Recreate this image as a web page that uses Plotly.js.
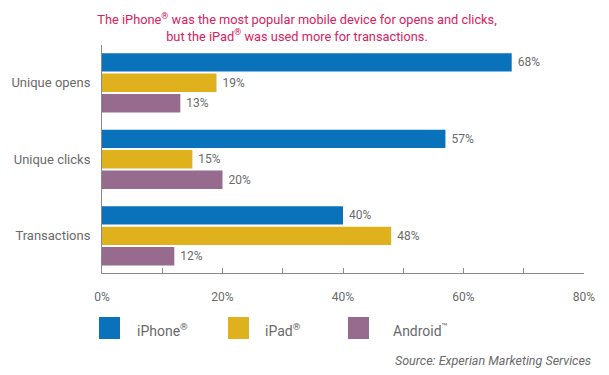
<!DOCTYPE html>
<html>
<head>
<meta charset="utf-8">
<script src="https://cdn.plot.ly/plotly-3.0.1.min.js"></script>
<style>html,body{margin:0;padding:0;background:#fff;}#chart{width:609px;height:375px;}</style>
</head>
<body>
<div id="chart"></div>
<script>
const categories = ['Unique opens', 'Unique clicks', 'Transactions'];
const iphoneValues = [68, 57, 40];
const ipadValues = [19, 15, 48];
const androidValues = [13, 20, 12];
const seriesNames = ['iPhone<sup>®</sup>', 'iPad<sup>®</sup>', 'Android<sup>™</sup>'];
const seriesColors = ['#0a72bb', '#dfb21d', '#966b8d'];
const xTickValues = [0, 20, 40, 60, 80];
const xTickLabels = ['0%', '20%', '40%', '60%', '80%'];
const titleText = 'The iPhone<sup>®</sup> was the most popular mobile device for opens and clicks,<br>but the iPad<sup>®</sup> was used more for transactions.';
const sourceText = 'Source: Experian Marketing Services';

const seriesValues = [iphoneValues, ipadValues, androidValues];
const textColor = '#6a6a6a';
const fontFamily = 'Roboto, "Liberation Sans", Arial, sans-serif';

const traces = seriesValues.map((vals, i) => ({
  type: 'bar',
  orientation: 'h',
  y: categories,
  x: vals,
  name: seriesNames[i],
  marker: {color: seriesColors[i]},
  text: vals.map(v => ' ' + v + '%'),
  textposition: 'outside',
  textfont: {size: 12, color: textColor, family: fontFamily},
  cliponaxis: false,
  showlegend: false,
  hoverinfo: 'skip'
}));

// custom legend (paper coordinates)
const plotL = 102, plotR = 584, plotT = 45, plotB = 273;
const pw = plotR - plotL, ph = plotB - plotT;
const px = v => (v - plotL) / pw;
const py = v => (plotB - v) / ph;
const legendSquareX = [99, 228, 348];
const legendTextX = [135, 263, 391];
const shapes = [];
const annotations = [];
seriesNames.forEach((n, i) => {
  shapes.push({type: 'rect', xref: 'paper', yref: 'paper',
    x0: px(legendSquareX[i]), x1: px(legendSquareX[i] + 21),
    y0: py(317), y1: py(339),
    fillcolor: seriesColors[i], line: {width: 0}});
  annotations.push({xref: 'paper', yref: 'paper', x: px(legendTextX[i]), y: py(330),
    xanchor: 'left', yanchor: 'middle', text: n, showarrow: false,
    font: {size: 14, color: textColor, family: fontFamily}});
});
annotations.push({xref: 'paper', yref: 'paper', x: px(593), y: py(360),
  xanchor: 'right', yanchor: 'middle', text: '<i>' + sourceText + '</i>', showarrow: false,
  font: {size: 12.5, color: textColor, family: fontFamily}});

const layout = {
  width: 609, height: 375,
  margin: {l: plotL, r: 609 - plotR, t: plotT, b: 375 - plotB},
  paper_bgcolor: '#fff', plot_bgcolor: '#fff',
  font: {family: fontFamily, color: textColor},
  title: {text: titleText, x: 297 / 609, xanchor: 'center', xref: 'container',
    y: 1 - 24 / 375, yanchor: 'top', yref: 'container',
    font: {size: 12.8, color: '#d7215e', family: fontFamily}},
  barmode: 'group',
  bargap: 0.2,
  bargroupgap: 0.1,
  xaxis: {range: [0, 80], tickvals: xTickValues, ticktext: xTickLabels,
    showgrid: false, zeroline: false, showline: true, linecolor: '#8a8a8a', linewidth: 1,
    ticks: 'inside', ticklen: 5, tickcolor: '#8a8a8a',
    minor: {dtick: 10, tick0: 0, ticks: 'inside', ticklen: 5, tickcolor: '#8a8a8a'},
    tickfont: {size: 12, color: textColor}, ticklabelstandoff: 13, fixedrange: true},
  yaxis: {type: 'category', range: [2.486, -0.494],
    showgrid: false, zeroline: false, showline: true, linecolor: '#8a8a8a', linewidth: 1,
    ticks: '', tickfont: {size: 13, color: textColor}, ticklabelstandoff: 8, fixedrange: true},
  shapes: shapes,
  annotations: annotations
};

Plotly.newPlot('chart', traces, layout, {displayModeBar: false, staticPlot: true});
</script>
</body>
</html>
